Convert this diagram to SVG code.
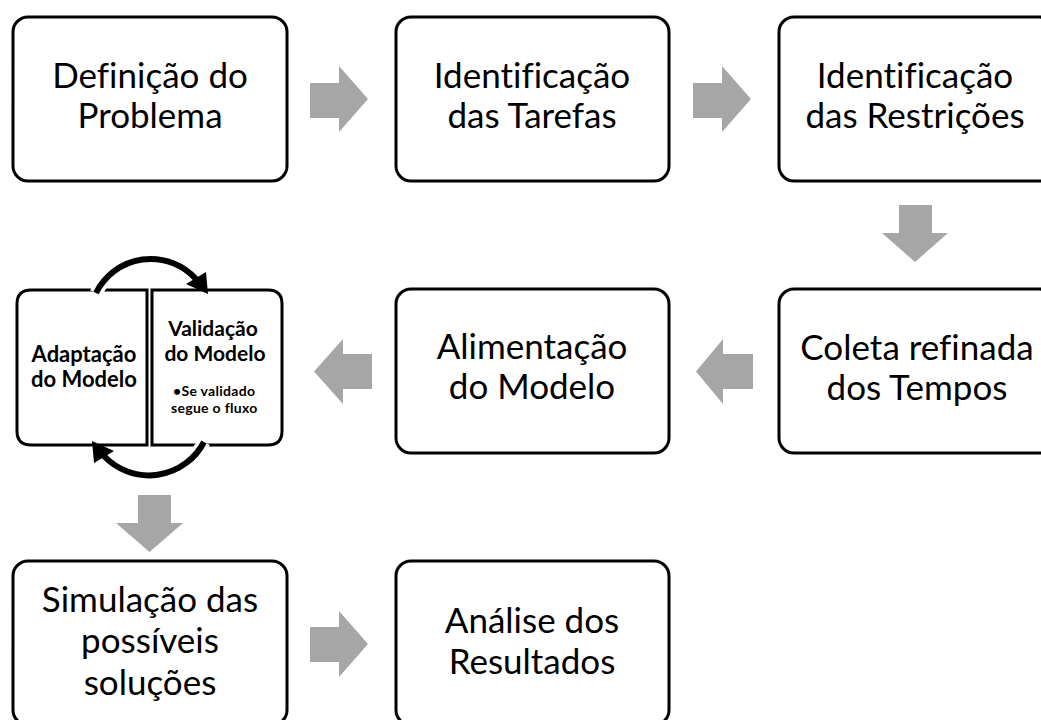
<svg xmlns="http://www.w3.org/2000/svg" width="1041" height="720" viewBox="0 0 1041 720">
<style>
.box{fill:#fff;stroke:#000;stroke-width:3}
.t{font-family:Lato,"Open Sans","Liberation Sans",sans-serif;font-size:35px;fill:#000;text-anchor:middle;font-variant-ligatures:none;font-feature-settings:"liga" 0}
.b{font-family:Lato,"Open Sans","Liberation Sans",sans-serif;font-weight:bold;fill:#000;font-variant-ligatures:none;font-feature-settings:"liga" 0}
.arr{fill:#A6A6A6}
.halo{fill:none;stroke:#fff;stroke-width:13}
.arc{fill:none;stroke:#000;stroke-width:6}
.head{fill:#000}
</style>
<rect width="1041" height="720" fill="#fff"/>
<g id="n1"><rect class="box" x="13" y="17" width="274" height="164" rx="15"/><text class="t" x="150" y="88">Definição do</text><text class="t" x="150" y="128">Problema</text></g>
<g id="n2"><rect class="box" x="396" y="17" width="273" height="164" rx="15"/><text class="t" x="532" y="88">Identificação</text><text class="t" x="532" y="128">das Tarefas</text></g>
<g id="n3"><rect class="box" x="779" y="17" width="275" height="164" rx="15"/><text class="t" x="915" y="88">Identificação</text><text class="t" x="915" y="128">das Restrições</text></g>
<g id="n4"><rect class="box" x="779" y="289" width="275" height="164" rx="15"/><text class="t" x="917" y="360">Coleta refinada</text><text class="t" x="917" y="400">dos Tempos</text></g>
<g id="n5"><rect class="box" x="396" y="289" width="273" height="164" rx="15"/><text class="t" x="532" y="359">Alimentação</text><text class="t" x="532" y="399">do Modelo</text></g>
<g id="n6">
<path class="box" d="M147 290 H31 Q17 290 17 304 V431 Q17 445 31 445 H147 Z"/>
<path class="box" d="M152 290 H268 Q282 290 282 304 V431 Q282 445 268 445 H152 Z"/>
<text class="b" x="84" y="362" font-size="22" text-anchor="middle">Adaptação</text>
<text class="b" x="84" y="387" font-size="22" text-anchor="middle">do Modelo</text>
<text class="b" x="213" y="336" font-size="21" text-anchor="middle">Validação</text>
<text class="b" x="215" y="361" font-size="21" text-anchor="middle">do Modelo</text>
<text class="b" x="173" y="396" font-size="14" letter-spacing="0.3">•Se validado</text>
<text class="b" x="171" y="413" font-size="14" letter-spacing="0.3">segue o fluxo</text>
<path class="halo" d="M96 293 A61 61 0 0 1 196 279"/>
<path class="halo" d="M204 442 A62 62 0 0 1 104 456"/>
<path class="arc" d="M96 293 A61 61 0 0 1 196 279"/>
<path class="head" d="M186 284 L206 272 L208 294 Z"/>
<path class="arc" d="M204 442 A62 62 0 0 1 104 456"/>
<path class="head" d="M114 451 L94 463 L92 441 Z"/>
</g>
<g id="n7"><rect class="box" x="13" y="561" width="274" height="164" rx="15"/><text class="t" x="150" y="612">Simulação das</text><text class="t" x="150" y="653">possíveis</text><text class="t" x="150" y="695">soluções</text></g>
<g id="n8"><rect class="box" x="396" y="561" width="273" height="164" rx="15"/><text class="t" x="532" y="633">Análise dos</text><text class="t" x="532" y="674">Resultados</text></g>
<g id="connectors">
<polygon class="arr" points="310,83 339,83 339,66 368,99 339,132 339,118 310,118"/>
<polygon class="arr" points="693,83 722,83 722,66 751,99 722,132 722,118 693,118"/>
<polygon class="arr" points="899,205 932,205 932,233 948,233 915,262 882,233 899,233"/>
<polygon class="arr" points="753,354 723,354 723,339 696,371.5 723,404 723,389 753,389"/>
<polygon class="arr" points="372,354 343,354 343,339 314,371.5 343,404 343,389 372,389"/>
<polygon class="arr" points="138,495 171,495 171,523 183,523 149.5,552 116,523 138,523"/>
<polygon class="arr" points="310,627 339,627 339,611 368,644 339,677 339,662 310,662"/>
</g>
</svg>
